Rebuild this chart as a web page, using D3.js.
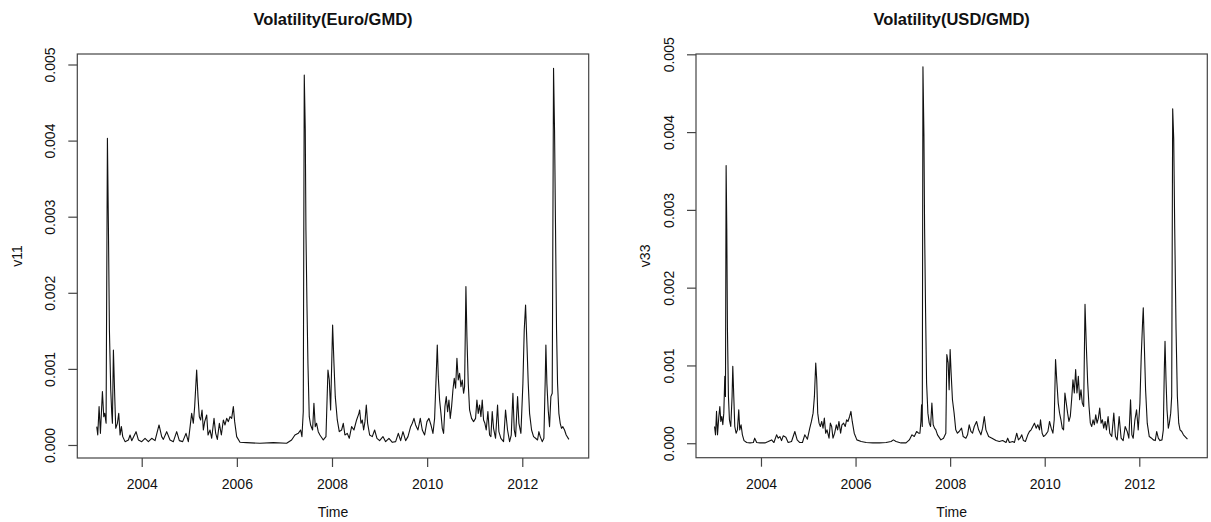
<!DOCTYPE html>
<html>
<head>
<meta charset="utf-8">
<script src="https://cdn.jsdelivr.net/npm/d3@7"></script>
<style>
body { margin: 0; background: #fff; }
svg text { font-family: "Liberation Sans", Arial, sans-serif; fill: #111; }
</style>
</head>
<body>
<div id="chart"></div>
<script>
// Euro/GMD volatility (v11)
var euroYears = [
 2003.055,2003.076,2003.104,2003.132,2003.174,2003.202,2003.223,2003.251,2003.279,2003.300,
 2003.321,2003.349,2003.370,2003.384,2003.405,2003.433,2003.454,2003.489,2003.517,2003.545,
 2003.573,2003.601,2003.650,2003.720,2003.755,2003.790,2003.881,2003.930,2004.000,2004.070,
 2004.140,2004.210,2004.280,2004.364,2004.420,2004.455,2004.525,2004.595,2004.665,2004.735,
 2004.791,2004.861,2004.931,2004.980,2005.050,2005.085,2005.113,2005.155,2005.183,2005.211,
 2005.239,2005.268,2005.296,2005.324,2005.366,2005.394,2005.436,2005.471,2005.520,2005.555,
 2005.590,2005.632,2005.674,2005.716,2005.751,2005.786,2005.821,2005.856,2005.891,2005.926,
 2005.954,2005.996,2006.066,2006.206,2006.486,2006.766,2007.046,2007.151,2007.221,2007.291,
 2007.340,2007.368,2007.396,2007.417,2007.438,2007.452,2007.473,2007.494,2007.522,2007.550,
 2007.592,2007.620,2007.648,2007.676,2007.711,2007.746,2007.817,2007.873,2007.915,2007.943,
 2007.971,2008.013,2008.041,2008.069,2008.111,2008.153,2008.202,2008.237,2008.272,2008.321,
 2008.363,2008.412,2008.461,2008.517,2008.566,2008.581,2008.609,2008.637,2008.665,2008.693,
 2008.721,2008.749,2008.791,2008.847,2008.896,2008.945,2009.001,2009.071,2009.127,2009.197,
 2009.268,2009.338,2009.394,2009.443,2009.492,2009.548,2009.597,2009.653,2009.688,2009.723,
 2009.758,2009.807,2009.856,2009.898,2009.947,2009.996,2010.038,2010.080,2010.122,2010.157,
 2010.192,2010.213,2010.234,2010.262,2010.290,2010.318,2010.346,2010.374,2010.402,2010.430,
 2010.458,2010.486,2010.514,2010.542,2010.570,2010.598,2010.626,2010.654,2010.682,2010.710,
 2010.738,2010.766,2010.787,2010.815,2010.836,2010.864,2010.892,2010.934,2010.976,2011.018,
 2011.046,2011.074,2011.102,2011.130,2011.158,2011.186,2011.214,2011.242,2011.277,2011.312,
 2011.340,2011.368,2011.396,2011.438,2011.480,2011.508,2011.550,2011.606,2011.648,2011.690,
 2011.733,2011.768,2011.803,2011.831,2011.859,2011.901,2011.929,2011.971,2012.013,2012.041,
 2012.069,2012.097,2012.125,2012.153,2012.195,2012.237,2012.279,2012.321,2012.349,2012.377,
 2012.419,2012.454,2012.482,2012.496,2012.517,2012.545,2012.573,2012.601,2012.629,2012.657,
 2012.678,2012.699,2012.720,2012.741,2012.769,2012.797,2012.825,2012.853,2012.888,2012.923,
 2012.979
];
var euroVol = [
 0.000241,0.000131,0.000504,0.000153,0.000701,0.000372,0.000416,0.000285,0.00403,0.002869,
 0.001511,0.000723,0.000416,0.000285,0.001248,0.000635,0.000219,0.000285,0.000416,0.000131,
 0.000241,0.00011,0.000044,0.000066,0.000131,0.000057,0.000175,0.000066,0.000044,0.000088,
 0.000044,0.000088,0.000057,0.000263,0.00011,0.000074,0.000175,0.000066,0.000044,0.000175,
 0.000057,0.000044,0.000153,0.000044,0.000416,0.000285,0.000504,0.000986,0.000635,0.000372,
 0.000329,0.00046,0.000197,0.000307,0.000394,0.000131,0.000197,0.000088,0.00035,0.000153,
 0.000074,0.000285,0.000131,0.000329,0.000263,0.00035,0.000307,0.000372,0.00035,0.000504,
 0.000307,0.00011,0.000035,0.000031,0.000022,0.000031,0.000022,0.000066,0.000131,0.000153,
 0.000197,0.00011,0.000438,0.004862,0.004139,0.002825,0.001862,0.001073,0.000372,0.000263,
 0.000197,0.000548,0.000241,0.000285,0.000175,0.000131,0.000066,0.00011,0.000986,0.000854,
 0.00046,0.001577,0.001073,0.000635,0.000329,0.000175,0.000197,0.000285,0.000131,0.000153,
 0.000088,0.000241,0.000197,0.000329,0.000416,0.00046,0.000285,0.000329,0.000197,0.000307,
 0.000526,0.000285,0.000131,0.00011,0.000197,0.000088,0.000057,0.00011,0.000044,0.000088,
 0.000035,0.000044,0.000153,0.000057,0.000175,0.000057,0.00011,0.000241,0.000285,0.00035,
 0.000263,0.000197,0.00035,0.000197,0.000131,0.000307,0.00035,0.000263,0.000153,0.00035,
 0.000942,0.001314,0.000898,0.000591,0.000416,0.000219,0.000153,0.000504,0.000635,0.000438,
 0.000591,0.00035,0.000504,0.000723,0.000876,0.000745,0.001139,0.000854,0.000942,0.000767,
 0.000854,0.000679,0.000767,0.002081,0.001424,0.00081,0.00046,0.00035,0.000307,0.00035,
 0.000591,0.000416,0.000526,0.000372,0.000591,0.000329,0.000285,0.000197,0.000438,0.000131,
 0.00011,0.000438,0.000219,0.000088,0.000526,0.000175,0.000088,0.000044,0.00046,0.000197,
 0.000044,0.000131,0.000679,0.000197,0.00011,0.000635,0.000285,0.000153,0.00081,0.001511,
 0.00184,0.001336,0.00081,0.000416,0.000197,0.00011,0.000088,0.000066,0.000175,0.00011,
 0.000044,0.000088,0.000854,0.001314,0.00081,0.00046,0.000241,0.000635,0.000679,0.00495,
 0.004139,0.002825,0.001511,0.00081,0.000416,0.000285,0.000219,0.000241,0.000197,0.000131,
 0.000074
];

// USD/GMD volatility (v33)
var usdYears = [
 2003.018,2003.039,2003.060,2003.081,2003.109,2003.130,2003.151,2003.172,2003.193,2003.214,
 2003.235,2003.249,2003.263,2003.277,2003.291,2003.312,2003.333,2003.361,2003.389,2003.404,
 2003.425,2003.446,2003.474,2003.502,2003.530,2003.551,2003.579,2003.607,2003.642,2003.698,
 2003.768,2003.839,2003.867,2003.909,2003.979,2004.084,2004.154,2004.225,2004.274,2004.330,
 2004.365,2004.400,2004.435,2004.470,2004.526,2004.575,2004.646,2004.716,2004.765,2004.821,
 2004.877,2004.926,2004.982,2005.032,2005.067,2005.102,2005.130,2005.158,2005.179,2005.200,
 2005.228,2005.256,2005.284,2005.312,2005.340,2005.368,2005.396,2005.439,2005.467,2005.495,
 2005.523,2005.558,2005.593,2005.621,2005.649,2005.684,2005.712,2005.747,2005.782,2005.811,
 2005.839,2005.874,2005.902,2005.930,2005.972,2006.028,2006.119,2006.225,2006.365,2006.505,
 2006.646,2006.751,2006.800,2006.856,2006.961,2007.067,2007.137,2007.193,2007.242,2007.291,
 2007.333,2007.361,2007.382,2007.396,2007.411,2007.425,2007.446,2007.460,2007.481,2007.502,
 2007.530,2007.558,2007.586,2007.614,2007.642,2007.670,2007.698,2007.733,2007.804,2007.860,
 2007.909,2007.930,2007.958,2007.979,2008.000,2008.021,2008.049,2008.084,2008.119,2008.154,
 2008.191,2008.241,2008.276,2008.333,2008.368,2008.403,2008.439,2008.474,2008.510,2008.559,
 2008.602,2008.651,2008.686,2008.722,2008.757,2008.814,2008.885,2008.970,2009.040,2009.111,
 2009.182,2009.217,2009.253,2009.323,2009.359,2009.408,2009.444,2009.479,2009.515,2009.550,
 2009.592,2009.642,2009.677,2009.713,2009.748,2009.783,2009.819,2009.854,2009.890,2009.911,
 2009.946,2009.975,2010.017,2010.067,2010.102,2010.137,2010.173,2010.201,2010.229,2010.258,
 2010.286,2010.314,2010.343,2010.371,2010.399,2010.427,2010.456,2010.484,2010.512,2010.541,
 2010.569,2010.597,2010.626,2010.654,2010.682,2010.711,2010.739,2010.767,2010.795,2010.824,
 2010.852,2010.880,2010.909,2010.937,2010.965,2010.994,2011.022,2011.050,2011.079,2011.107,
 2011.135,2011.163,2011.192,2011.220,2011.248,2011.277,2011.305,2011.340,2011.376,2011.418,
 2011.461,2011.496,2011.532,2011.574,2011.616,2011.659,2011.701,2011.744,2011.779,2011.815,
 2011.843,2011.871,2011.907,2011.942,2011.977,2012.013,2012.041,2012.069,2012.084,2012.105,
 2012.133,2012.168,2012.211,2012.260,2012.296,2012.338,2012.367,2012.402,2012.437,2012.480,
 2012.508,2012.529,2012.544,2012.565,2012.586,2012.614,2012.636,2012.664,2012.685,2012.706,
 2012.728,2012.749,2012.777,2012.805,2012.834,2012.862,2012.897,2012.933,2012.968,2013.018
];
var usdVol = [
 0.000215,0.000108,0.000409,0.000108,0.000344,0.000473,0.00028,0.000344,0.000237,0.000387,
 0.00086,0.000602,0.00357,0.002753,0.001462,0.000602,0.000301,0.000215,0.000602,0.000989,
 0.000602,0.000215,0.000129,0.000172,0.00043,0.000172,0.000237,0.000108,0.000034,0.000009,
 0.000004,0.000009,0.000065,0.000009,0.000004,0.000004,0.000022,0.000043,0.000009,0.000108,
 0.000065,0.000086,0.000034,0.000095,0.000077,0.000009,0.000022,0.000151,0.000043,0.000009,
 0.000009,0.000108,0.000052,0.000194,0.00028,0.000387,0.000602,0.001032,0.000817,0.000387,
 0.000258,0.000215,0.00028,0.000194,0.000323,0.000129,0.000172,0.000065,0.000258,0.000215,
 0.000065,0.000129,0.000237,0.000172,0.00028,0.000129,0.000237,0.000258,0.000215,0.000301,
 0.00028,0.000344,0.000409,0.00028,0.000129,0.000043,0.000022,0.000009,0.000004,0.000004,
 0.000009,0.000022,0.000043,0.000022,0.000004,0.000004,0.000043,0.000108,0.000086,0.000151,
 0.000129,0.000129,0.00028,0.000495,0.000215,0.004839,0.003957,0.002753,0.001677,0.000774,
 0.000387,0.000258,0.000215,0.000516,0.000237,0.000194,0.000172,0.000108,0.000043,0.000065,
 0.000129,0.00114,0.001032,0.000688,0.001204,0.000903,0.000559,0.000387,0.000172,0.000129,
 0.000151,0.000194,0.000086,0.000065,0.000108,0.000237,0.000151,0.000129,0.000215,0.00028,
 0.000172,0.000108,0.000194,0.000344,0.000172,0.000086,0.000065,0.000034,0.000022,0.000034,
 0.000009,0.000065,0.000009,0.000022,0.000009,0.000129,0.000043,0.000065,0.000108,0.000034,
 0.000022,0.000108,0.000151,0.000172,0.000215,0.000258,0.000194,0.000237,0.000172,0.000301,
 0.000129,0.000086,0.000108,0.000151,0.00028,0.000194,0.000129,0.000301,0.001075,0.000774,
 0.000516,0.000387,0.000301,0.000194,0.000172,0.000645,0.000516,0.000387,0.00028,0.000344,
 0.000559,0.000817,0.000645,0.000946,0.000645,0.00086,0.000559,0.000688,0.000516,0.000473,
 0.001785,0.001247,0.000774,0.000473,0.000258,0.000215,0.000301,0.000237,0.000366,0.000258,
 0.000323,0.000452,0.000258,0.000301,0.000194,0.00028,0.000172,0.000344,0.000129,0.000086,
 0.000387,0.000086,0.000043,0.000344,0.000065,0.000034,0.000215,0.000151,0.000065,0.000559,
 0.000108,0.000065,0.000301,0.00043,0.000172,0.000516,0.001118,0.001548,0.001742,0.00129,
 0.000688,0.000258,0.000086,0.000065,0.000043,0.000034,0.000151,0.000065,0.000034,0.000043,
 0.000172,0.000946,0.001312,0.000817,0.00043,0.000194,0.000258,0.000387,0.000602,0.004301,
 0.003914,0.002753,0.001462,0.000602,0.000258,0.000172,0.000151,0.000108,0.000086,0.000052
];

var xTicks = [2004, 2006, 2008, 2010, 2012];
var yTicks = [0, 0.001, 0.002, 0.003, 0.004, 0.005];

var svg = d3.select("#chart").append("svg")
    .attr("width", 1211)
    .attr("height", 522);

// one R-style ts plot per panel
var panels = [
    {title: "Volatility(Euro/GMD)", ylab: "v11", years: euroYears, vol: euroVol,
     left: 77.3, right: 588.7, top: 54, bottom: 458,
     xdom: [2002.646, 2013.396], ydom: [-0.000171, 0.005138], ylabX: 22},
    {title: "Volatility(USD/GMD)", ylab: "v33", years: usdYears, vol: usdVol,
     left: 696, right: 1207.3, top: 54, bottom: 457.7,
     xdom: [2002.626, 2013.438], ydom: [-0.000186, 0.005004], ylabX: 650}
];

panels.forEach(function(p) {
    var x = d3.scaleLinear().domain(p.xdom).range([p.left, p.right]);
    var y = d3.scaleLinear().domain(p.ydom).range([p.bottom, p.top]);
    var g = svg.append("g");

    var line = d3.line()
        .x(function(d, i) { return x(p.years[i]); })
        .y(function(d) { return y(d); });

    g.append("path")
        .datum(p.vol)
        .attr("d", line)
        .attr("fill", "none")
        .attr("stroke", "#111")
        .attr("stroke-width", 1.1)
        .attr("stroke-linejoin", "round");

    // plot box
    g.append("rect")
        .attr("x", p.left).attr("y", p.top)
        .attr("width", p.right - p.left).attr("height", p.bottom - p.top)
        .attr("fill", "none")
        .attr("stroke", "#444")
        .attr("stroke-width", 1.2);

    // bottom axis
    var xa = g.append("g")
        .attr("transform", "translate(0," + p.bottom + ")")
        .call(d3.axisBottom(x).tickValues(xTicks).tickFormat(d3.format("d"))
              .tickSize(9).tickPadding(12.3));
    xa.select(".domain").remove();
    xa.attr("font-size", 14).attr("font-family", null).attr("color", "#444");
    xa.selectAll("line").attr("stroke-width", 1.2);

    // left axis, labels parallel to the axis
    var ya = g.append("g")
        .attr("transform", "translate(" + p.left + ",0)")
        .call(d3.axisLeft(y).tickValues(yTicks).tickFormat(d3.format(".3f")).tickSize(9));
    ya.select(".domain").remove();
    ya.attr("font-size", 14).attr("font-family", null).attr("color", "#444");
    ya.selectAll("line").attr("stroke-width", 1.2);
    ya.selectAll("text")
        .attr("x", 0).attr("dy", 0)
        .attr("text-anchor", "middle")
        .attr("transform", "translate(-22,0) rotate(-90)");

    var cx = (p.left + p.right) / 2;
    g.append("text")
        .attr("x", cx).attr("y", 25)
        .attr("text-anchor", "middle")
        .attr("font-size", 16.5)
        .attr("font-weight", "bold")
        .text(p.title);

    g.append("text")
        .attr("x", cx).attr("y", 517)
        .attr("text-anchor", "middle")
        .attr("font-size", 14)
        .text("Time");

    g.append("text")
        .attr("transform", "translate(" + p.ylabX + "," + ((p.top + p.bottom) / 2) + ") rotate(-90)")
        .attr("text-anchor", "middle")
        .attr("font-size", 14)
        .text(p.ylab);
});
</script>
</body>
</html>
